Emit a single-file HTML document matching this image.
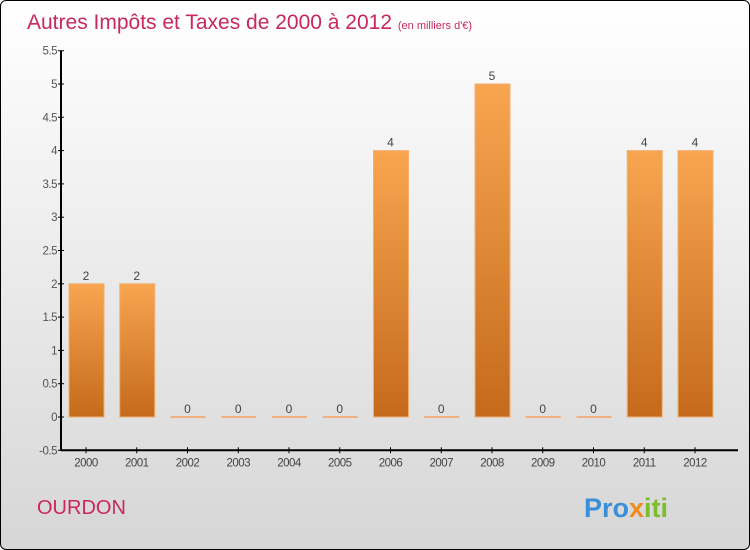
<!DOCTYPE html>
<html><head><meta charset="utf-8"><style>
body{margin:0}
#c{position:relative;width:748px;height:548px;border:1px solid #000;border-radius:6px;overflow:hidden;background:linear-gradient(#ffffff,#d6d6d6);font-family:"Liberation Sans",sans-serif}
</style></head><body>
<div id="c">
<svg width="748" height="548" id="svg">
<defs><linearGradient id="bg" x1="0" y1="0" x2="0" y2="1"><stop offset="0" stop-color="#f8a550"/><stop offset="1" stop-color="#c56a1b"/></linearGradient></defs>
<text x="26" y="28" font-size="21" fill="#c8285e">Autres Impôts et Taxes de 2000 à 2012 <tspan font-size="11">(en milliers d'€)</tspan></text>
<text x="36" y="513" font-size="20" fill="#c8285e">OURDON</text>
<text x="583" y="516" font-size="27" font-weight="bold" fill="#3a8fd8">Pro<tspan fill="#f08a1c">x</tspan><tspan fill="#7cbd2a">iti</tspan></text>
<g id="g"></g>
</svg></div>
<script>
const categories=["2000","2001","2002","2003","2004","2005","2006","2007","2008","2009","2010","2011","2012"];
const values=[2,2,0,0,0,0,4,0,5,0,0,4,4];
const yTicks=[-0.5,0,0.5,1,1.5,2,2.5,3,3.5,4,4.5,5,5.5];
const NS="http://www.w3.org/2000/svg";
const g=document.getElementById('g');
const y=v=>416-v*66.6;
const x=i=>85+i*50.75;
function el(t,a,txt){const e=document.createElementNS(NS,t);for(const k in a)e.setAttribute(k,a[k]);if(txt!==undefined)e.textContent=txt;g.appendChild(e);return e;}
const ax=el('line',{x1:60,y1:y(5.5),x2:60,y2:y(-0.5),stroke:'#000','stroke-width':2});

const bx=el('line',{x1:60,y1:y(-0.5),x2:737,y2:y(-0.5),stroke:'#000','stroke-width':2});

yTicks.forEach(t=>{
 el('line',{x1:57,x2:63,y1:y(t),y2:y(t),stroke:'#000'});
 const l=el('text',{x:56,y:y(t)+4,'font-size':11.5,fill:'#555','text-anchor':'end','letter-spacing':'-0.5'},String(t));
 
});
categories.forEach((c,i)=>{
 const cx=x(i),v=values[i];
 el('line',{x1:cx,x2:cx,y1:y(-0.5)-3,y2:y(-0.5)+3,stroke:'#000'});
 const l=el('text',{x:cx,y:y(-0.5)+16,'font-size':11.5,fill:'#444','text-anchor':'middle','letter-spacing':'-0.5'},c);
 
 let b;
 if(v>0)b=el('rect',{x:cx-17,y:y(v),width:35,height:y(0)-y(v),fill:'url(#bg)',stroke:'#f0b070','stroke-width':1});
 else b=el('rect',{x:cx-17,y:y(0)-1,width:35,height:2,fill:'#f0b080'});
 
 const vl=el('text',{x:cx,y:y(v)-4,'font-size':12,fill:'#444','text-anchor':'middle'},String(v));
 
});
</script>
</body></html>
